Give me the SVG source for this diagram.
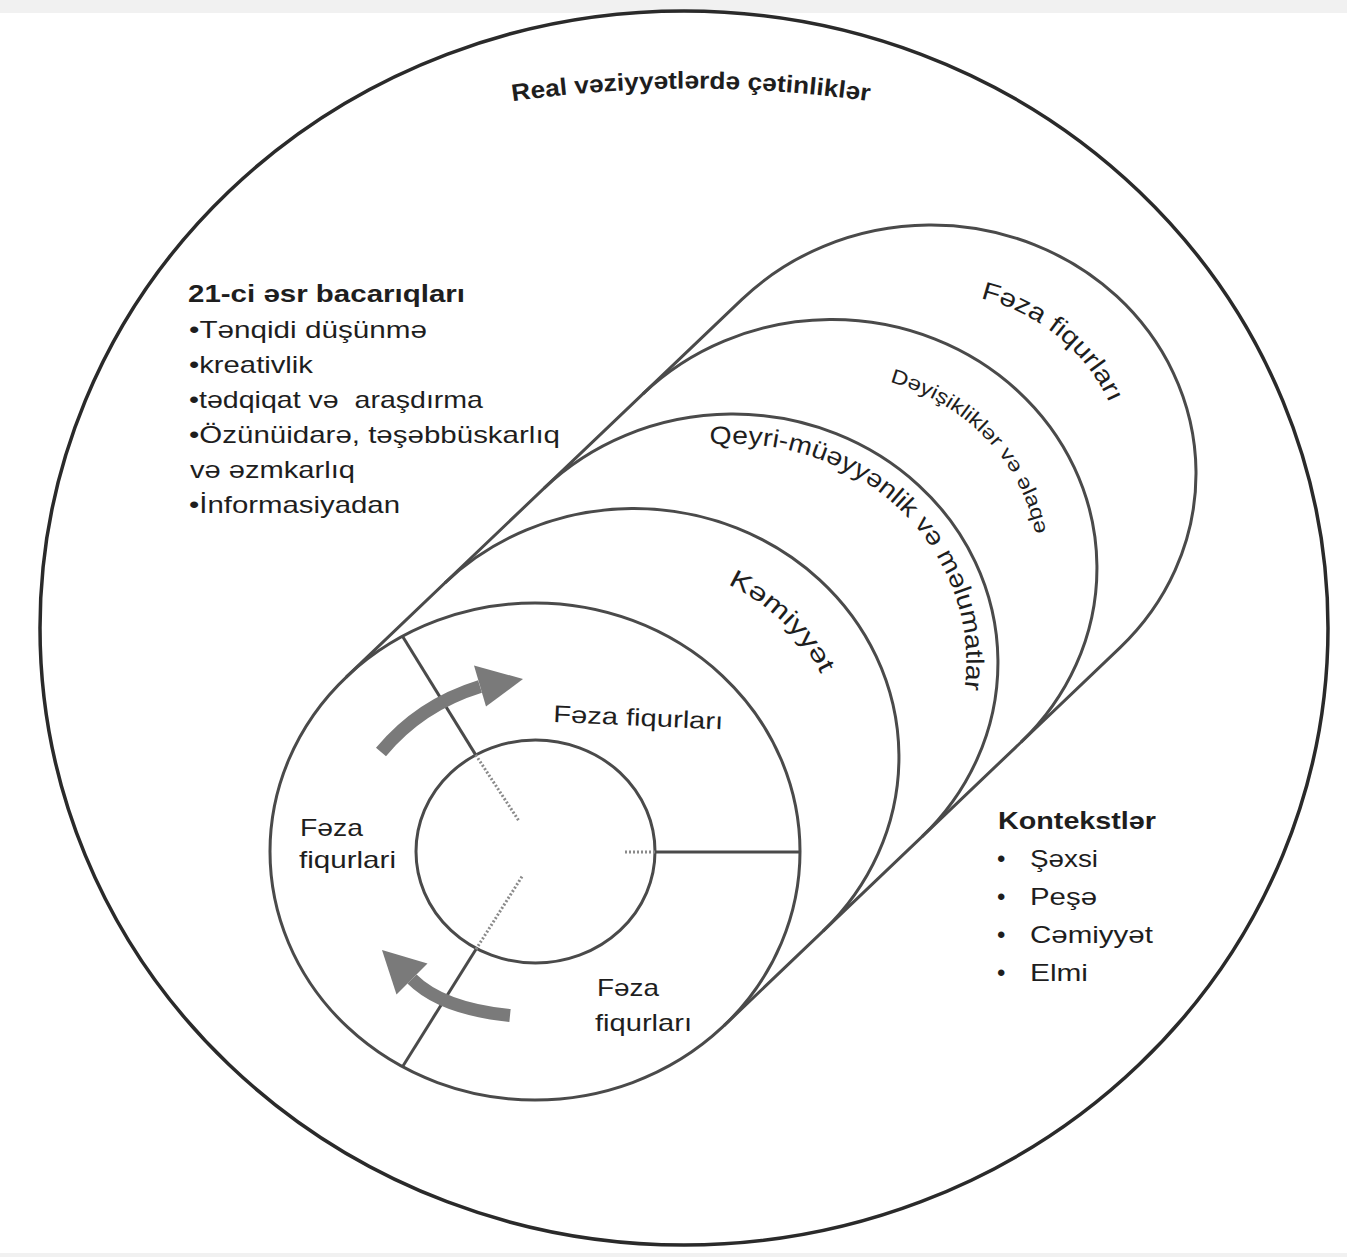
<svg xmlns="http://www.w3.org/2000/svg" width="1347" height="1257" viewBox="0 0 1347 1257">
<defs>
<style>
.ln{fill:none;stroke:#4a4a4a;stroke-width:3}
.outer{fill:none;stroke:#2a2a2a;stroke-width:3.5}
.t{font-family:"Liberation Sans",Arial,sans-serif;fill:#1e1e1e}
.b{font-weight:bold}
.shaft{fill:none;stroke:#7a7a7a;stroke-width:13}
.head{fill:#7a7a7a}
.dot{fill:none;stroke:#8a8a8a;stroke-width:3;stroke-dasharray:2 2}
</style>
<path id="pTop" d="M 471 108 A 1253 1253 0 0 1 911 108"/>
<path id="pK" d="M 587.5 568.2 A 206.7 193.8 0 0 1 831.7 813.7"/>
<path id="pQ" d="M 676.6 450.3 A 233.2 218.7 0 0 1 957.2 722.8"/>
<path id="pD" d="M 792.6 377.8 A 206.7 193.8 0 0 1 1027.4 631.1"/>
<path id="pF" d="M 871.2 301.0 A 193.5 181.4 0 0 1 1120.3 511.2"/>
</defs>
<rect x="0" y="0" width="1347" height="1257" fill="#ffffff"/>
<rect x="0" y="0" width="1347" height="13" fill="#f1f1f1"/>
<rect x="0" y="1253" width="1347" height="4" fill="#f1f1f1"/>

<g id="outer-context">
<ellipse class="outer" cx="684" cy="628" rx="644" ry="617"/>
<text class="t b" font-size="24"><textPath href="#pTop" startOffset="50%" text-anchor="middle" textLength="358" lengthAdjust="spacingAndGlyphs">Real vəziyyətlərdə çətinliklər</textPath></text>
</g>

<g id="skills">
<text class="t b" font-size="24" x="188" y="302" textLength="277" lengthAdjust="spacingAndGlyphs">21-ci əsr bacarıqları</text>
<text class="t" font-size="24" x="189" y="338" textLength="238" lengthAdjust="spacingAndGlyphs">•Tənqidi düşünmə</text>
<text class="t" font-size="24" x="189" y="373" textLength="124" lengthAdjust="spacingAndGlyphs">•kreativlik</text>
<text class="t" font-size="24" x="189" y="408" textLength="294" lengthAdjust="spacingAndGlyphs" style="white-space:pre">•tədqiqat və  araşdırma</text>
<text class="t" font-size="24" x="189" y="443" textLength="371" lengthAdjust="spacingAndGlyphs">•Özünüidarə, təşəbbüskarlıq</text>
<text class="t" font-size="24" x="190" y="478" textLength="165" lengthAdjust="spacingAndGlyphs">və əzmkarlıq</text>
<text class="t" font-size="24" x="189" y="513" textLength="211" lengthAdjust="spacingAndGlyphs">•İnformasiyadan</text>
</g>

<g id="contexts">
<text class="t b" font-size="24" x="998" y="829" textLength="158" lengthAdjust="spacingAndGlyphs">Kontekstlər</text>
<text class="t" font-size="24" x="997" y="867">•</text>
<text class="t" font-size="24" x="1030" y="867" textLength="68" lengthAdjust="spacingAndGlyphs">Şəxsi</text>
<text class="t" font-size="24" x="997" y="905">•</text>
<text class="t" font-size="24" x="1030" y="905" textLength="67" lengthAdjust="spacingAndGlyphs">Peşə</text>
<text class="t" font-size="24" x="997" y="943">•</text>
<text class="t" font-size="24" x="1030" y="943" textLength="123" lengthAdjust="spacingAndGlyphs">Cəmiyyət</text>
<text class="t" font-size="24" x="997" y="981">•</text>
<text class="t" font-size="24" x="1030" y="981" textLength="58" lengthAdjust="spacingAndGlyphs">Elmi</text>
</g>

<g id="tube">
<path class="ln" d="M 345.95 677.35 L 741.95 299.35 A 265 248.5 0 0 1 1120.05 647.65 L 724.05 1025.65"/>
</g>
<g id="ring-3">
<path class="ln" d="M 642.95 393.85 A 265 248.5 0 0 1 1021.05 742.15"/>
</g>
<g id="ring-2">
<path class="ln" d="M 543.95 488.35 A 265 248.5 0 0 1 922.05 836.65"/>
</g>
<g id="ring-1">
<path class="ln" d="M 444.95 582.85 A 265 248.5 0 0 1 823.05 931.15"/>
</g>

<g id="ring-labels">
<text class="t" font-size="25"><textPath href="#pF" startOffset="50%" text-anchor="middle" textLength="172" lengthAdjust="spacingAndGlyphs">Fəza fiqurları</textPath></text>
<text class="t" font-size="20"><textPath href="#pD" startOffset="50%" text-anchor="middle" textLength="222" lengthAdjust="spacingAndGlyphs">Dəyişikliklər və əlaqə</textPath></text>
<text class="t" font-size="25"><textPath href="#pQ" startOffset="50%" text-anchor="middle" textLength="405" lengthAdjust="spacingAndGlyphs">Qeyri-müəyyənlik və məlumatlar</textPath></text>
<text class="t" font-size="25"><textPath href="#pK" startOffset="50%" text-anchor="middle" textLength="132" lengthAdjust="spacingAndGlyphs">Kəmiyyət</textPath></text>
</g>

<g id="front-circle">
<ellipse class="ln" cx="535" cy="851.5" rx="265" ry="248.5"/>
<ellipse class="ln" cx="535.5" cy="851.5" rx="119.5" ry="111.5"/>
<line class="ln" x1="402.5" y1="636.3" x2="475.7" y2="754.9"/>
<line class="dot" x1="475.7" y1="754.9" x2="519" y2="821"/>
<line class="ln" x1="402.5" y1="1066.7" x2="476" y2="949.3"/>
<line class="dot" x1="476" y1="949.3" x2="523" y2="875"/>
<line class="ln" x1="655" y1="852" x2="800" y2="852"/>
<line class="dot" x1="625" y1="852" x2="655" y2="852"/>
<text class="t" font-size="24" x="553" y="722" textLength="170" lengthAdjust="spacingAndGlyphs" transform="rotate(2.5 553 722)">Fəza fiqurları</text>
<text class="t" font-size="24" x="300" y="836" textLength="63" lengthAdjust="spacingAndGlyphs">Fəza</text>
<text class="t" font-size="24" x="299" y="868" textLength="97" lengthAdjust="spacingAndGlyphs">fiqurlari</text>
<text class="t" font-size="24" x="597" y="996" textLength="62" lengthAdjust="spacingAndGlyphs">Fəza</text>
<text class="t" font-size="24" x="595" y="1031" textLength="97" lengthAdjust="spacingAndGlyphs">fiqurları</text>
</g>

<g id="connectors">
<path class="shaft" d="M 381 752 Q 420 705 480 686.5"/>
<polygon class="head" points="523,679 474,665.5 486,706.5"/>
<path class="shaft" d="M 510 1015.5 Q 441.7 1008.7 412 979"/>
<polygon class="head" points="382,950 396.5,994.5 427.5,963.5"/>
</g>
</svg>
